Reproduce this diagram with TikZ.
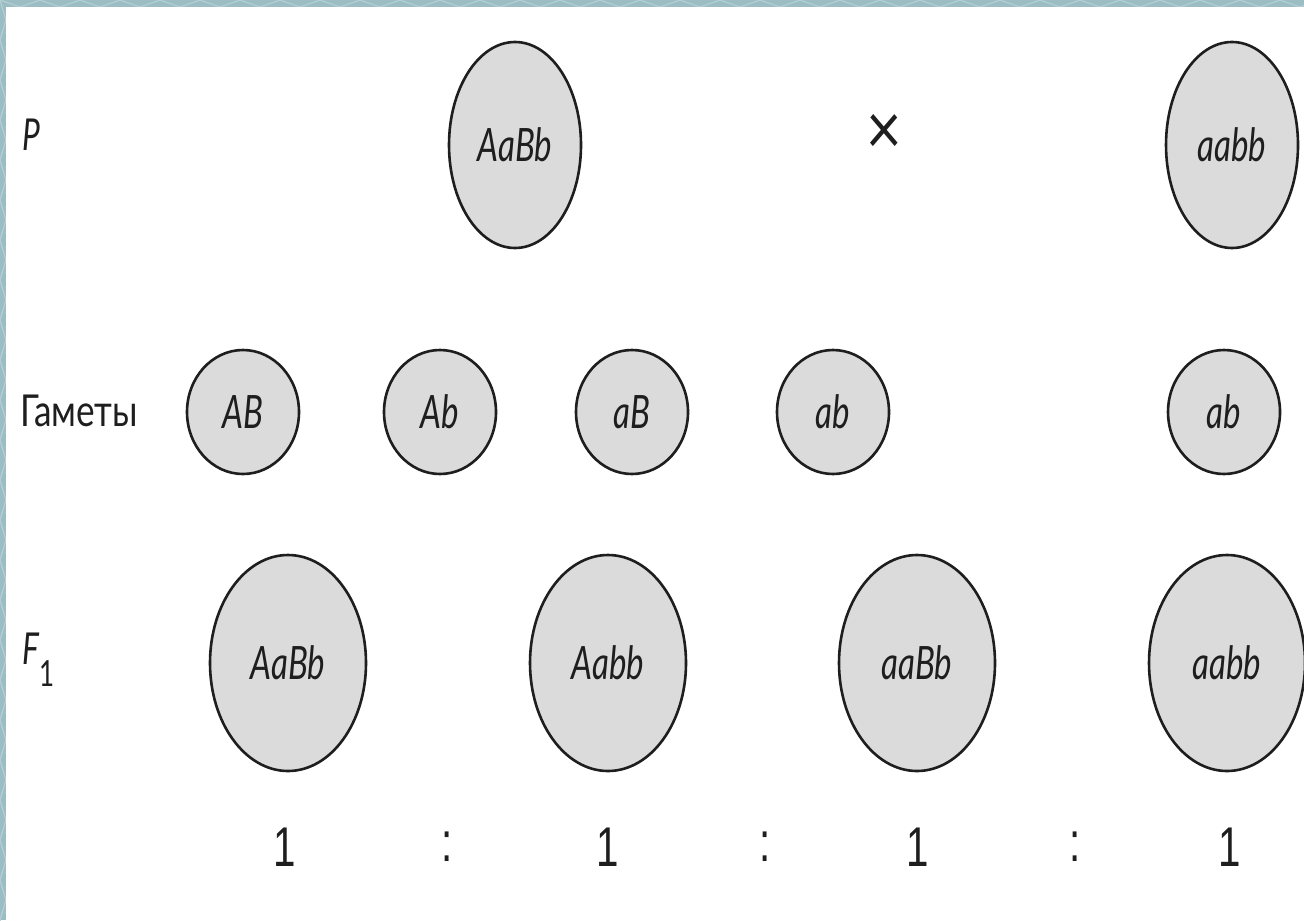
\documentclass[tikz,border=0pt]{standalone}
\usepackage{fontspec}
\usepackage{graphicx}
\setmainfont{Lato}
\newfontfamily\digitfont{Liberation Sans}
\usetikzlibrary{shapes.geometric}
\definecolor{framebg}{HTML}{9CBDC3}
\definecolor{framelines}{HTML}{B4CFD4}
\definecolor{cellfill}{HTML}{DBDBDB}
\definecolor{ink}{HTML}{1E1E1E}
% condensed text, as the lettering is narrow
\newcommand\narrow[1]{\scalebox{0.72}[1]{#1}}
\newcommand\geno[1]{\narrow{\itshape #1}}
\begin{document}
\begin{tikzpicture}[x=0.5pt,y=-0.5pt,
  cell/.style={ellipse, draw=ink, line width=1.3pt, fill=cellfill, inner sep=0pt,
    text=ink, font=\fontsize{23}{23}\selectfont},
  bigcell/.style={cell, minimum width=66pt, minimum height=103pt},
  gamcell/.style={cell, minimum width=56pt, minimum height=62pt},
  offcell/.style={cell, minimum width=78pt, minimum height=108pt},
  rowlabel/.style={anchor=west, inner sep=0pt, text=ink},
  ratio/.style={inner sep=0pt, text=ink, font=\digitfont\fontsize{28}{28}\selectfont}]
% frame and sheet
\fill[framebg] (0,0) rectangle (1304,920);
\begin{scope}
  \clip (0,0) rectangle (1304,920);
  \foreach \k in {0,40,...,1320}
    \draw[framelines, line width=0.6pt] (\k,0) -- (\k+20,7) -- (\k+40,0);
  \foreach \k in {0,40,...,920}
    \draw[framelines, line width=0.6pt] (0,\k) -- (6,\k+20) -- (0,\k+40);
\end{scope}
\fill[white] (6,7) rectangle (1304,920);
\useasboundingbox (0,0) rectangle (1304,920);

% row labels
\node[rowlabel, font=\fontsize{22}{22}\selectfont] (lp) at (22,135) {\narrow{\itshape P}};
\node[rowlabel, font=\fontsize{22}{22}\selectfont] (lg) at (20,411) {\scalebox{0.8}[1]{Гаметы}};
\node[rowlabel, font=\fontsize{22}{22}\selectfont] (lf) at (22,660)
  {\narrow{\itshape F}\raisebox{-11pt}{\fontsize{18}{18}\selectfont\narrow{1}}};

% parents
\node[bigcell] (p1) at (515,145) {\geno{AaBb}};
\node[inner sep=0pt, text=ink, font=\fontsize{36}{36}\selectfont] (cross) at (884,134) {\scalebox{0.85}[1]{×}};
\node[bigcell] (p2) at (1232,145) {\geno{aabb}};

% gametes
\node[gamcell] (g1) at (243,412) {\geno{AB}};
\node[gamcell] (g2) at (440,412) {\geno{Ab}};
\node[gamcell] (g3) at (632,412) {\geno{aB}};
\node[gamcell] (g4) at (833,412) {\geno{ab}};
\node[gamcell] (g5) at (1224,412) {\geno{ab}};

% offspring
\node[offcell] (f1) at (288,663) {\geno{AaBb}};
\node[offcell] (f2) at (608,663) {\geno{Aabb}};
\node[offcell] (f3) at (917,663) {\geno{aaBb}};
\node[offcell] (f4) at (1227,663) {\geno{aabb}};

% segregation ratio
\node[ratio] (r1) at (285,847) {\narrow{1}};
\node[ratio] (c1) at (447,847) {\narrow{:}};
\node[ratio] (r2) at (608,847) {\narrow{1}};
\node[ratio] (c2) at (765,847) {\narrow{:}};
\node[ratio] (r3) at (918,847) {\narrow{1}};
\node[ratio] (c3) at (1075,847) {\narrow{:}};
\node[ratio] (r4) at (1230,847) {\narrow{1}};
\end{tikzpicture}
\end{document}
